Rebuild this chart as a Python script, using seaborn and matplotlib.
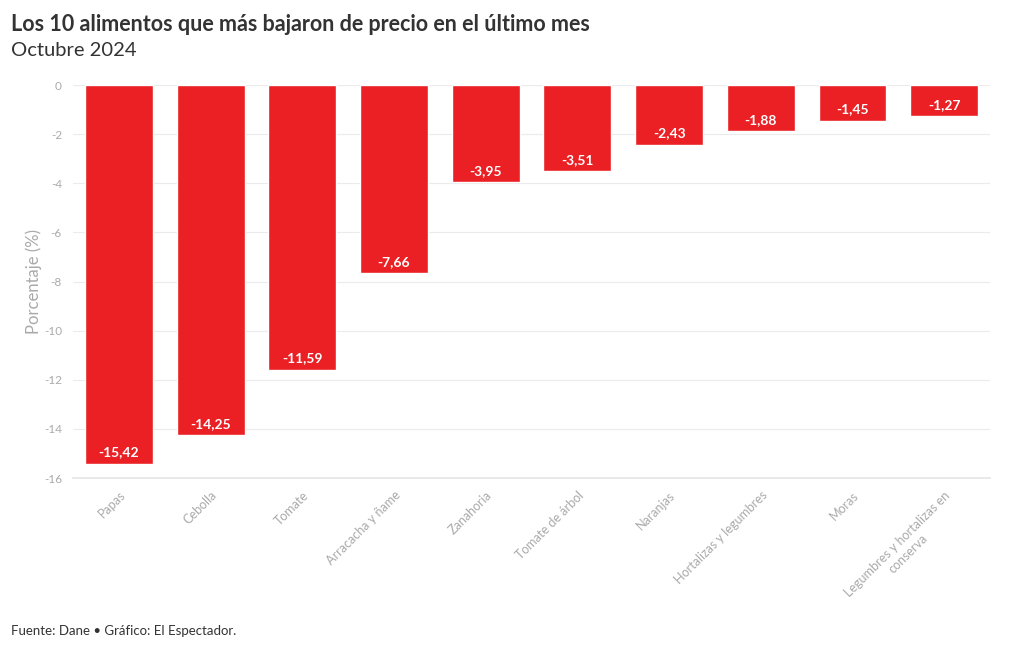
import numpy as np
import pandas as pd
import matplotlib
matplotlib.use('Agg')
import matplotlib.pyplot as plt
import seaborn as sns

# datos: variación mensual de precios (%)
alimentos = ['Papas', 'Cebolla', 'Tomate', 'Arracacha y ñame', 'Zanahoria',
             'Tomate de árbol', 'Naranjas', 'Hortalizas y legumbres', 'Moras',
             'Legumbres y hortalizas en\nconserva']
variacion = [-15.42, -14.25, -11.59, -7.66, -3.95, -3.51, -2.43, -1.88, -1.45, -1.27]
yticks = [0, -2, -4, -6, -8, -10, -12, -14, -16]

df = pd.DataFrame({'Alimento': alimentos, 'Variacion': variacion})

sns.set_theme(style='white')
plt.rcParams['font.family'] = ['Lato', 'DejaVu Sans']

fig = plt.figure(figsize=(10.2, 6.5), dpi=100)
ax = fig.add_axes([0.0716, 0.2646, 0.899, 0.6044])

rojo = '#ea2024'
sns.barplot(data=df, x='Alimento', y='Variacion', color=rojo, width=0.74,
            saturation=1, ax=ax, zorder=3)

# etiquetas de valor dentro de la barra
for i, v in enumerate(variacion):
    ax.text(i, v + 0.22, f'{v:.2f}'.replace('.', ','), ha='center', va='bottom',
            color='white', fontsize=10, fontweight='bold', zorder=4)

ax.set_ylim(-16, 0)
ax.set_xlim(-0.5, len(alimentos) - 0.5)
ax.set_yticks(yticks)
ax.set_yticklabels([str(t) for t in yticks], color='#aaaaaa', fontsize=8.5)
ax.grid(axis='y', color='#ebebeb', linewidth=0.8, zorder=0)
ax.set_xlabel('')
ax.set_ylabel('Porcentaje (%)', color='#aaaaaa', fontsize=12, labelpad=1)

ax.tick_params(axis='x', length=4, color='#e6e6e6', pad=4, labelsize=9,
               labelcolor='#aaaaaa')
ax.tick_params(axis='y', length=0, pad=8)
fig.canvas.draw()
for lbl in ax.get_xticklabels():
    lbl.set_rotation(45)
    lbl.set_ha('right')
    lbl.set_rotation_mode('anchor')
    lbl.set_multialignment('center')
    lbl.set_color('#aaaaaa')

for s in ['top', 'right', 'left']:
    ax.spines[s].set_visible(False)
ax.spines['bottom'].set_color('#e6e6e6')

# títulos
fig.text(0.011, 0.963, 'Los 10 alimentos que más bajaron de precio en el último mes',
         fontsize=15.5, fontweight='bold', color='#333333', ha='left', va='center')
fig.text(0.011, 0.922, 'Octubre 2024', fontsize=14.5, color='#333333', ha='left', va='center')
fig.text(0.011, 0.029, 'Fuente: Dane • Gráfico: El Espectador.', fontsize=9.5,
         color='#333333', ha='left', va='center')

plt.savefig('out.png', dpi=100)
